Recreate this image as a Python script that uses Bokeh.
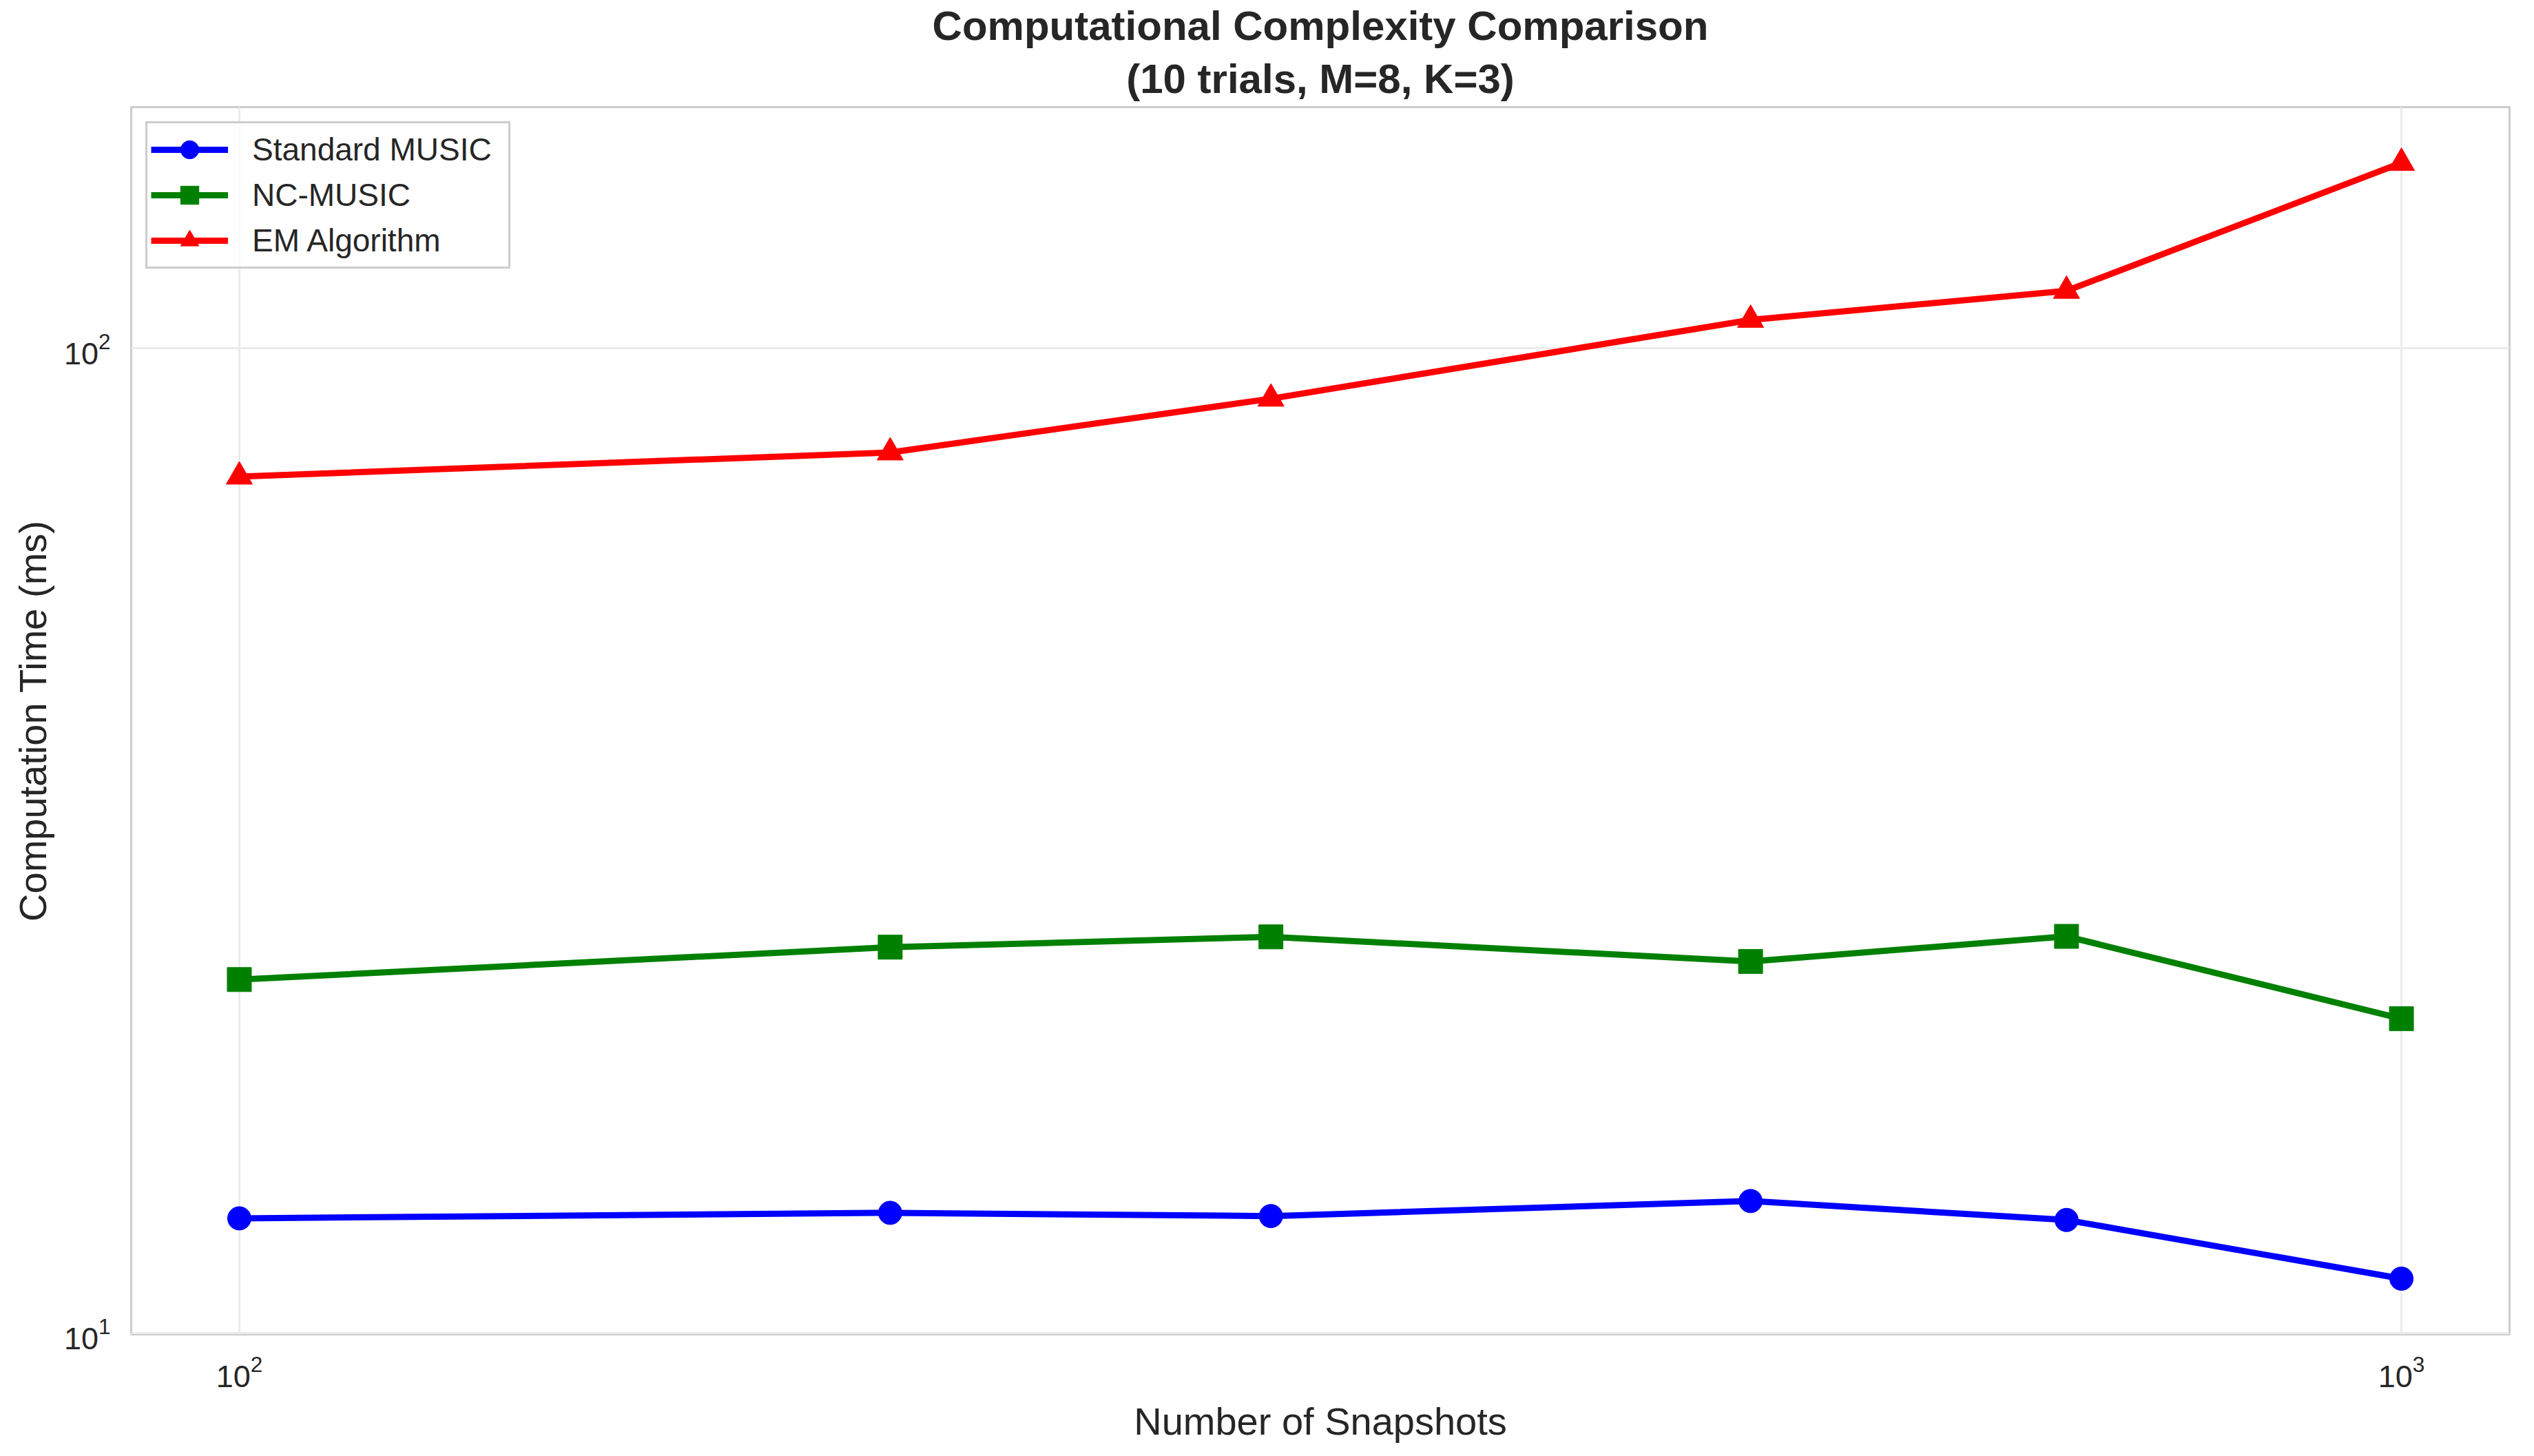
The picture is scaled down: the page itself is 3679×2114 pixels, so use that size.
import numpy as np
from bokeh.plotting import figure
from bokeh.models import FixedTicker, Legend, LegendItem, Range1d, Title
from bokeh.embed import file_html
from bokeh.resources import INLINE

# ---- data ----
snapshots = [100, 200, 300, 500, 700, 1000]
standard_music_ms = [13.08, 13.25, 13.15, 13.62, 13.03, 11.36]
nc_music_ms = [22.86, 24.66, 25.26, 23.85, 25.29, 20.86]
em_algorithm_ms = [74.1, 78.4, 88.9, 106.9, 114.4, 154.3]
series_names = ["Standard MUSIC", "NC-MUSIC", "EM Algorithm"]
title_lines = ["Computational Complexity Comparison", "(10 trials, M=8, K=3)"]
x_ticks = [100, 1000]
y_ticks = [10, 100]

# ---- styles ----
FONT = "Liberation Sans"
TEXT = "#262626"
colors = ["#0000ff", "#008000", "#ff0000"]
markers = ["circle", "square", "triangle"]
marker_sizes = [34, 35, 38]


def log_pad(vals, frac=0.05):
    lo, hi = np.log10(min(vals)), np.log10(max(vals))
    pad = (hi - lo) * frac
    return 10 ** (lo - pad), 10 ** (hi + pad)


x0, x1 = log_pad(snapshots)
y0, y1 = log_pad(standard_music_ms + nc_music_ms + em_algorithm_ms)

p = figure(
    width=3679, height=2114,
    x_axis_type="log", y_axis_type="log",
    x_range=Range1d(x0, x1), y_range=Range1d(y0, y1),
    output_backend="svg", toolbar_location=None, title=None,
    min_border_left=190, min_border_right=36,
    min_border_top=155, min_border_bottom=177,
    background_fill_color="white", border_fill_color="white",
)

# two title lines, each centred: first added sits nearest the frame
for text, standoff in ((title_lines[1], 16), (title_lines[0], 0)):
    p.add_layout(Title(text=text, align="center", text_font=FONT,
                       text_font_size="60px", text_font_style="bold",
                       text_color=TEXT, standoff=standoff), "above")

p.outline_line_color = "#cccccc"
p.outline_line_width = 3

for ax, ticks, label in ((p.xaxis, x_ticks, "Number of Snapshots"),
                         (p.yaxis, y_ticks, "Computation Time (ms)")):
    ax.ticker = FixedTicker(ticks=ticks)
    ax.axis_label = label
    ax.axis_label_text_font = FONT
    ax.axis_label_text_font_size = "56px"
    ax.axis_label_text_font_style = "normal"
    ax.axis_label_text_color = TEXT
    ax.major_label_text_font = FONT
    ax.major_label_text_font_size = "45px"
    ax.major_label_text_color = TEXT
    ax.major_tick_out = 0
    ax.major_tick_in = 0
    ax.minor_tick_out = 0
    ax.minor_tick_in = 0
    ax.axis_line_color = None
    ax.major_label_standoff = 30

p.xaxis.axis_label_standoff = 15
p.yaxis.axis_label_standoff = 11

p.grid.grid_line_color = "#ebebeb"
p.grid.grid_line_width = 3
p.grid.minor_grid_line_color = None

items = []
for name, ys, c, m, s in zip(series_names,
                             [standard_music_ms, nc_music_ms, em_algorithm_ms],
                             colors, markers, marker_sizes):
    lr = p.line(snapshots, ys, line_color=c, line_width=9, line_join="round")
    sr = p.scatter(snapshots, ys, marker=m, size=s, fill_color=c, line_color=c, line_width=1)
    items.append(LegendItem(label=name, renderers=[lr, sr]))

legend = Legend(
    items=items, location="top_left", margin=21, padding=5, spacing=0,
    glyph_height=66, glyph_width=112, label_standoff=35, label_width=367,
    label_text_font=FONT, label_text_font_size="46px", label_text_color=TEXT,
    border_line_color="#cccccc", border_line_width=3, border_line_alpha=1,
    background_fill_color="white", background_fill_alpha=0.8,
)
p.add_layout(legend)

open("out.html", "w").write(file_html(p, INLINE))
